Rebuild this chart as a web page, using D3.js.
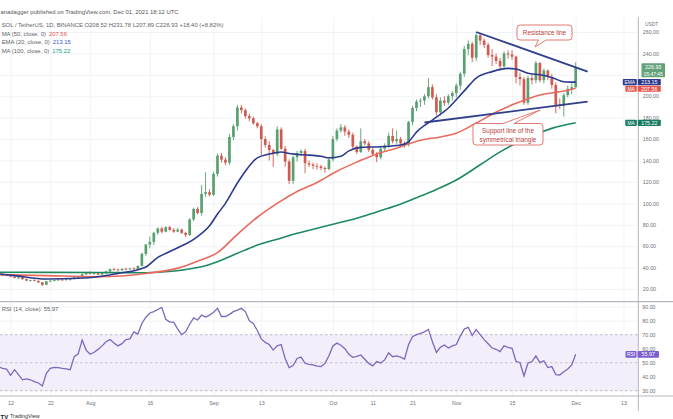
<!DOCTYPE html>
<html><head><meta charset="utf-8">
<script src="https://cdn.jsdelivr.net/npm/d3@7"></script>
<style>
body{margin:0;background:#fff;}
svg{display:block;font-family:"Liberation Sans",Arial,sans-serif;}
</style>
</head><body>
<svg id="c" width="673" height="419"></svg>
<script>
// ---------- DATA ----------
const firstDay = "2021-07-08";
const lastDay = "2021-12-01";
// daily [open, high, low, close], Jul 8 .. Dec 1
const ohlc = [
[34,35,32.5,33],[33,34.5,32.3,33.8],[33.8,34.5,32,32.5],[32.5,33.6,31.8,33.1],[33.1,33.5,31,31.6],
[31.6,32,30,30.4],[30.4,31.2,29.2,30.8],[30.8,31.3,28.6,29.2],[29.2,29.8,27.4,27.8],[27.8,28.6,27,28.2],
[28.2,29,27.2,27.6],[27.6,28,25.6,26.2],[26.2,26.6,22.8,24],[24,27.6,23.6,27.2],[27.2,28.3,26.4,27.8],
[27.8,28.6,27,28.3],[28.3,29.2,27.6,28.8],[28.8,29.1,27.8,28.4],[28.4,30.4,27.9,29],[29,29.8,27.8,29.3],
[29.3,31.5,28.8,30.8],[30.8,31.6,30,31.2],[31.2,34.5,30.6,33.8],[33.8,35.8,33,35.2],
[35.2,36.5,33.6,34.2],[34.2,35.5,33.2,34.9],[34.9,35.2,32.6,33.6],[33.6,35.2,32.9,34.8],[34.8,37,33.8,36.4],
[36.4,39,35.8,38.5],[38.5,39.8,37.2,38.2],[38.2,38.9,36.5,37.6],[37.6,39.5,36.8,38.8],[38.8,40,37.9,38.4],
[38.4,39.9,37.8,39.2],[39.2,40.2,37.6,38.6],[38.6,42,38.2,41.6],[41.6,54,41,52.8],[52.8,62,51,61.5],
[61.5,69,58,64],[64,73.5,61,72.5],[72.5,77.5,70.5,76.5],[76.5,78,72,73.5],[73.5,78.5,73,77.8],
[77.8,79,74.5,75.2],[75.2,76.8,72.5,73.6],[73.6,77,73,75.5],[75.5,76.2,71.5,72.4],[72.4,73.5,68.5,70.5],
[70.5,86,69.5,85],[85,96,83.5,94.8],[94.8,96.5,89.5,91],[91,117,88.5,108.8],[108.8,129,106,110.5],
[110.5,113,106.5,108],
[108,129.5,107,127.5],[127.5,146.5,125,144.5],[144.5,147,138,140.8],[140.8,143,135.5,138],[138,165,136,162],
[162,174,159,172],[172,192,168,189.5],[189.5,192,184,187],[187,188.5,179,181.5],[181.5,183.5,176.5,179.5],
[179.5,181,173.5,174.8],[174.8,176,170,172],[172,174,145,160],[160,162.5,152,154.5],[154.5,158,140,149.8],
[149.8,151,134,146],[146,172,144,169],[169,171,150,151],[151,153.5,134,139],[139,141,118,121],
[121,144.5,118,143],[143,149,139,147],[147,150.5,144,148.8],[148.8,151,128,137.5],[137.5,140,134,136.3],
[136.3,138,132,135],[135,137.5,131.5,134.5],[134.5,136,131,133],[133,134.5,128.5,132],[132,143,131,141],
[141,163,139,160],[160,170,158,168],[168,174,166,171],[171,173,163,167],[167,169,161,164],
[164,166,150,153],[153,154,146,148],[148,170,147,158],[158,160,154,156],[156,158,148,150],
[150,152,144,146],[146,148,138.5,143],[143,153,141,151],[151,156,148,154],[154,166,152,163],
[163,170,156,158],[158,168,155,160],[160,162,154,156],[156,158,152,155],[155,177,153,176],
[176,191,173,189],[189,197,186,195],[195,198,190,196],[196,202,192,200],[200,217,198,208.5],
[208.5,211,197,199],[199,202,182,185],[185,199,182,196],[196,200,191,194],[194,202,192,200],
[200,205,196,203],
[203,212,199,210],[210,223,206,221],[221,247,218,244],[244,252,238,249],[249,251,232,236],
[236,260,233,257],[257,259,248,252],[252,254,245,248],[248,250,236,238.5],[238.5,244,228,237],
[237,240,230,233],[233,236,224,228],[228,242,226,240],[240,243,235,239],[239,243,234,237],
[237,238,212,218],[218,222,210,216],[216,218,192,194],[194,219,192,217],[217,220,211,215],
[215,233,212,231],[231,232,213,215],[215,226,212,224],[224,225,215,218],[218,221,207,210.5],
[210.5,213,184,192],[192,198,188,191],[191,203,181,201],[201,210,199,207],[207,212,202,208.5],
[208.52,231.78,207.89,226.93]
];
// RSI(14) per day, Jul 8 .. Dec 1
const rsi = [
48.4,47,46,45.5,41,45,41.5,37.8,38.5,37.8,36.5,35.5,33.4,42.4,46,46.6,46.5,46,45.6,45,54.3,56.4,66.2,59,
56,57.5,59.5,62,65,66.5,64,62,63.6,66.5,67,72,70.5,78,82.5,85.5,86.5,88,89.5,81,79,79,74,70,72,77.5,82,80.5,84,82.6,84,
86,88.8,83,83,84.5,86.5,87.5,88.8,86.5,80,78,73,67,64.5,63,59,62,63,53,46.5,48,53,54,49.6,48.8,48.4,47.5,47.2,49.5,55,
62,64,62.5,60,56,53.8,54.5,55.5,52.5,49.5,47.7,50.8,49.8,52,57,54.3,54.8,54,52.6,63,68.5,70,71,72,73.8,65,57.3,61,62.6,60.5,62,
63,69,74,75.3,69.5,73.6,70,66.5,63.5,60.5,59.6,57.9,62,61,60.3,51,50,40.5,49.6,50.8,54.8,50,51.3,46.5,47.2,41.5,41.2,43.5,45.5,48.4,
55.97
];
const ema20 = [["2021-07-08",34.5],["2021-07-13",32.5],["2021-07-21",29.3],["2021-07-29",30],["2021-08-03",31.5],
["2021-08-08",34.5],["2021-08-13",38],["2021-08-15",40.5],["2021-08-18",49.5],["2021-08-21",55],["2021-08-23",58.5],
["2021-08-25",62],["2021-08-28",69],["2021-08-31",79],["2021-09-02",90],["2021-09-04",100],["2021-09-07",119],
["2021-09-09",130],["2021-09-12",142.5],["2021-09-15",146],["2021-09-18",148],["2021-09-20",146.5],["2021-09-25",145],
["2021-09-28",144],["2021-09-30",142.5],["2021-10-03",144],["2021-10-05",149],["2021-10-08",152.3],["2021-10-13",152.9],
["2021-10-18",154.5],["2021-10-20",157.5],["2021-10-22",166.5],["2021-10-26",177.8],["2021-10-30",189],["2021-11-03",205],
["2021-11-06",217],["2021-11-10",223],["2021-11-14",226],["2021-11-16",225.5],["2021-11-19",221.5],["2021-11-22",220],
["2021-11-25",217.5],["2021-11-28",213.6],["2021-12-01",213.15]];
const ma50 = [["2021-07-08",33.5],["2021-07-21",32.5],["2021-08-03",31.5],["2021-08-15",34.5],["2021-08-23",39.5],
["2021-08-28",46],["2021-09-02",54],["2021-09-07",71],["2021-09-12",87],["2021-09-17",100],["2021-09-22",111],
["2021-09-27",119.5],["2021-10-02",130],["2021-10-07",138.5],["2021-10-12",146],["2021-10-17",151.5],["2021-10-23",159],
["2021-10-28",162],["2021-11-01",165.5],["2021-11-06",175],["2021-11-12",187],["2021-11-16",193.4],["2021-11-22",201.2],
["2021-11-27",204.2],["2021-12-01",207.56]];
const ma100 = [["2021-07-08",35.6],["2021-08-03",35.4],["2021-08-15",35.2],["2021-08-28",40],["2021-09-02",45.5],
["2021-09-07",53.3],["2021-09-12",61],["2021-09-17",66.5],["2021-09-22",72],["2021-09-27",76.7],["2021-10-02",81.4],
["2021-10-07",86],["2021-10-12",92],["2021-10-17",98],["2021-10-22",105.3],["2021-10-27",113],["2021-11-01",121.8],
["2021-11-07",136],["2021-11-12",148],["2021-11-19",161.5],["2021-11-25",170],["2021-12-01",175.22]];
const resistanceLine = [["2021-11-06",260],["2021-12-04",223]];
const supportLine = [["2021-10-24",175.5],["2021-12-04",195]];
const priceTicks = [20,40,60,80,100,120,140,160,180,200,240,260];
const priceGrid = [20,40,60,80,100,120,140,160,180,200,220,240,260];
const rsiTicks = [30,40,50,60,70,80,90];
const dateTicks = ["2021-07-12","2021-07-22","2021-08-01","2021-08-16","2021-09-01","2021-09-13","2021-10-01",
"2021-10-11","2021-10-21","2021-11-01","2021-11-15","2021-12-01","2021-12-13"];
const dateLabels = ["12","22","Aug","16","Sep","13","Oct","11","21","Nov","15","Dec","13"];
const last = {close:226.93, ema:213.15, ma50:207.56, ma100:175.22, rsi:55.97};

// ---------- SETUP ----------
const svg = d3.select("#c");
const parse = d3.utcParse("%Y-%m-%d");
const days = d3.utcDay.range(parse(firstDay), d3.utcDay.offset(parse(lastDay),1));
const AX = 638.3, TOP = 17, SEP = 301.7, BOT = 396;
const x = d3.scaleUtc().domain([parse(firstDay), parse(lastDay)]).range([575.7-146*3.98, 575.7]);
const y = d3.scaleLinear().domain([20,260]).range([289,32]);
const yr = d3.scaleLinear().domain([30,90]).range([390.7,306.7]);

const UP="#58a070", DN="#cf5a50", EMA="#2c3a8e", MA50="#e96a5e", MA100="#1d8a5e", RSIC="#7e68bd";
const GRID="#eef0f3", TXT="#6b6f7a";

const defs = svg.append("defs");
defs.append("clipPath").attr("id","cm").append("rect").attr("x",0).attr("y",TOP).attr("width",AX).attr("height",SEP-TOP);
defs.append("clipPath").attr("id","cr").append("rect").attr("x",0).attr("y",SEP).attr("width",AX).attr("height",BOT-SEP);

// ---------- GRID ----------
const gv = svg.append("g").attr("transform",`translate(0,${BOT})`)
  .call(d3.axisBottom(x).tickValues(dateTicks.map(parse)).tickSize(-(BOT-TOP)).tickFormat(""));
gv.select(".domain").remove();
gv.selectAll("line").attr("stroke",GRID).attr("stroke-width",0.8);

const gh = svg.append("g").attr("transform",`translate(${AX},0)`)
  .call(d3.axisRight(y).tickValues(priceGrid).tickSize(-AX).tickFormat(""));
gh.select(".domain").remove();
gh.selectAll("line").attr("stroke",GRID).attr("stroke-width",0.8);

const ghr = svg.append("g").attr("transform",`translate(${AX},0)`)
  .call(d3.axisRight(yr).tickValues([40,60,80,90]).tickSize(-AX).tickFormat(""));
ghr.select(".domain").remove();
ghr.selectAll("line").attr("stroke",GRID).attr("stroke-width",0.8);

// ---------- RSI PANE ----------
const rp = svg.append("g").attr("clip-path","url(#cr)");
rp.append("rect").attr("x",0).attr("width",AX).attr("y",yr(70)).attr("height",yr(30)-yr(70)).attr("fill","#f2eefa");
[70,50,30].forEach(v=>{
  rp.append("line").attr("x1",0).attr("x2",AX).attr("y1",yr(v)).attr("y2",yr(v))
    .attr("stroke", v===50?"#b9b6c6":"#a9a7b4").attr("stroke-width",0.8).attr("stroke-dasharray","2.5,2.5");
});
rp.append("path").datum(rsi).attr("fill","none").attr("stroke",RSIC).attr("stroke-width",1.3)
  .attr("d", d3.line().x((d,i)=>x(days[i])).y(d=>yr(d)));

// ---------- MAIN PANE ----------
const mp = svg.append("g").attr("clip-path","url(#cm)");
const cg = mp.selectAll("g.cd").data(ohlc).join("g").attr("class","cd");
cg.append("line")
  .attr("x1",(d,i)=>x(days[i])).attr("x2",(d,i)=>x(days[i]))
  .attr("y1",d=>y(d[1])).attr("y2",d=>y(d[2]))
  .attr("stroke",d=>d[3]>=d[0]?UP:DN).attr("stroke-width",0.9);
cg.append("rect")
  .attr("x",(d,i)=>x(days[i])-1.35).attr("width",2.7)
  .attr("y",d=>y(Math.max(d[0],d[3])))
  .attr("height",d=>Math.max(0.8, Math.abs(y(d[0])-y(d[3]))))
  .attr("fill",d=>d[3]>=d[0]?UP:DN);

const maLine = d3.line().x(d=>x(parse(d[0]))).y(d=>y(d[1])).curve(d3.curveMonotoneX);
mp.append("path").datum(ma100).attr("fill","none").attr("stroke",MA100).attr("stroke-width",1.6).attr("d",maLine);
mp.append("path").datum(ma50).attr("fill","none").attr("stroke",MA50).attr("stroke-width",1.6).attr("d",maLine);
mp.append("path").datum(ema20).attr("fill","none").attr("stroke",EMA).attr("stroke-width",1.6).attr("d",maLine);

const tl = d3.line().x(d=>x(parse(d[0]))).y(d=>y(d[1]));
mp.append("path").datum(resistanceLine).attr("fill","none").attr("stroke","#2f3f8c").attr("stroke-width",1.8).attr("d",tl);
mp.append("path").datum(supportLine).attr("fill","none").attr("stroke","#2f3f8c").attr("stroke-width",1.8).attr("d",tl);

// callouts
const CR="#e06a62", CT="#b8423c";
svg.append("path").attr("d","M520,25 H569 Q572,25 572,28 V37 Q572,40 569,40 H546 L535,47 L538.5,40 H520 Q517,40 517,37 V28 Q517,25 520,25 Z")
  .attr("fill","#fff").attr("stroke",CR).attr("stroke-width",0.9);
svg.append("text").attr("x",544.5).attr("y",34.8).attr("text-anchor","middle").attr("font-size",6.4).attr("fill",CT).text("Resistance line");
svg.append("path").attr("d","M476,123.5 H503 L540,110 L514,123.5 H540 Q543,123.5 543,126.5 V142 Q543,145 540,145 H476 Q473,145 473,142 V126.5 Q473,123.5 476,123.5 Z")
  .attr("fill","#fff").attr("stroke",CR).attr("stroke-width",0.9);
svg.append("text").attr("x",508).attr("y",133).attr("text-anchor","middle").attr("font-size",6.4).attr("fill",CT).text("Support line of the");
svg.append("text").attr("x",508).attr("y",141.5).attr("text-anchor","middle").attr("font-size",6.4).attr("fill",CT).text("symmetrical triangle");

// ---------- FRAME LINES ----------
svg.append("line").attr("x1",0).attr("x2",673).attr("y1",SEP).attr("y2",SEP).attr("stroke","#b4b7bf").attr("stroke-width",1.2);
svg.append("line").attr("x1",0).attr("x2",673).attr("y1",BOT).attr("y2",BOT).attr("stroke","#b4b7bf").attr("stroke-width",1.2);
svg.append("line").attr("x1",AX).attr("x2",AX).attr("y1",TOP).attr("y2",411).attr("stroke","#b4b7bf").attr("stroke-width",1);

// ---------- AXES ----------
const pa = svg.append("g").attr("transform",`translate(${AX},0)`)
  .call(d3.axisRight(y).tickValues(priceTicks).tickSize(0).tickPadding(4.5).tickFormat(d3.format(".2f")));
pa.select(".domain").remove();
pa.selectAll("text").attr("font-size",5.3).attr("fill",TXT).attr("font-family","Liberation Sans, Arial, sans-serif");

const ra = svg.append("g").attr("transform",`translate(${AX},0)`)
  .call(d3.axisRight(yr).tickValues(rsiTicks).tickSize(0).tickPadding(4).tickFormat(d3.format(".2f")));
ra.select(".domain").remove();
ra.selectAll("text").attr("font-size",5.3).attr("fill",TXT).attr("font-family","Liberation Sans, Arial, sans-serif");

const ta = svg.append("g").attr("transform",`translate(0,${BOT})`)
  .call(d3.axisBottom(x).tickValues(dateTicks.map(parse)).tickSize(0).tickPadding(5).tickFormat((d,i)=>dateLabels[i]));
ta.select(".domain").remove();
ta.selectAll("text").attr("font-size",5.3).attr("fill",TXT).attr("font-family","Liberation Sans, Arial, sans-serif");

svg.append("text").attr("x",645).attr("y",26).attr("font-size",4.8).attr("fill",TXT).text("USDT");

// value labels on axis
function tag(x0,w,yc,h,color,txt,fs){
  svg.append("rect").attr("x",x0).attr("y",yc-h/2).attr("width",w).attr("height",h).attr("rx",0.8).attr("fill",color);
  svg.append("text").attr("x",x0+w/2).attr("y",yc+1.9).attr("text-anchor","middle").attr("font-size",fs||5.3).attr("fill","#fff").text(txt);
}
// current price
svg.append("rect").attr("x",641.5).attr("y",y(last.close)-4.2).attr("width",23.5).attr("height",14).attr("rx",0.8).attr("fill","#63a27a");
svg.append("text").attr("x",653.2).attr("y",y(last.close)+1.8).attr("text-anchor","middle").attr("font-size",5.3).attr("fill","#fff").text(last.close.toFixed(2));
svg.append("text").attr("x",653.2).attr("y",y(last.close)+8.3).attr("text-anchor","middle").attr("font-size",4.9).attr("fill","#fff").text("05:47:45");
tag(622.8,14,y(last.ema),6.2,EMA,"EMA",4.9);
tag(637.8,23,y(last.ema),6.2,EMA,last.ema.toFixed(2));
tag(625.3,11.5,y(last.ma50)+0.6,6.2,"#e5564d","MA",4.9);
tag(637.8,23,y(last.ma50)+0.6,6.2,"#e5564d",last.ma50.toFixed(2));
tag(625.3,11.5,y(last.ma100),6.2,"#1a7c62","MA",4.9);
tag(637.8,23,y(last.ma100),6.2,"#1a7c62",last.ma100.toFixed(2));
tag(625.5,11,yr(last.rsi),6.6,"#7c5fcf","RSI",4.9);
tag(637.5,21.5,yr(last.rsi),6.6,"#7c5fcf",last.rsi.toFixed(2));

// ---------- LEGEND / HEADER ----------
const FS = 5.9;
svg.append("text").attr("x",0.5).attr("y",14.3).attr("font-size",FS).attr("fill","#555")
  .text("anadagger published on TradingView.com, Dec 01, 2021 18:12 UTC");
svg.append("text").attr("x",1.7).attr("y",27).attr("font-size",FS).attr("fill","#5c5f68")
  .text("SOL / TetherUS, 1D, BINANCE  O208.52  H231.78  L207.89  C226.93  +18.40 (+8.82%)");
function leg(yb,label,val,color){
  const t = svg.append("text").attr("x",1.7).attr("y",yb).attr("font-size",FS).attr("fill","#5c5f68");
  t.append("tspan").text(label);
  t.append("tspan").attr("dx",3).attr("fill",color).text(val);
}
leg(35.8,"MA (50, close, 0)","207.56","#e5564d");
leg(44.4,"EMA (20, close, 0)","213.15","#3a57c9");
leg(53,"MA (100, close, 0)","175.22","#169c86");
leg(311.2,"RSI (14, close)","55.97","#5c5f68");

// TradingView logo
svg.append("text").attr("x",0.5).attr("y",418.5).attr("font-size",6).attr("font-weight","bold").attr("fill","#131722").text("TV");
svg.append("text").attr("x",10).attr("y",418.3).attr("font-size",5.4).attr("fill","#333").text("TradingView");
</script>
</body></html>
